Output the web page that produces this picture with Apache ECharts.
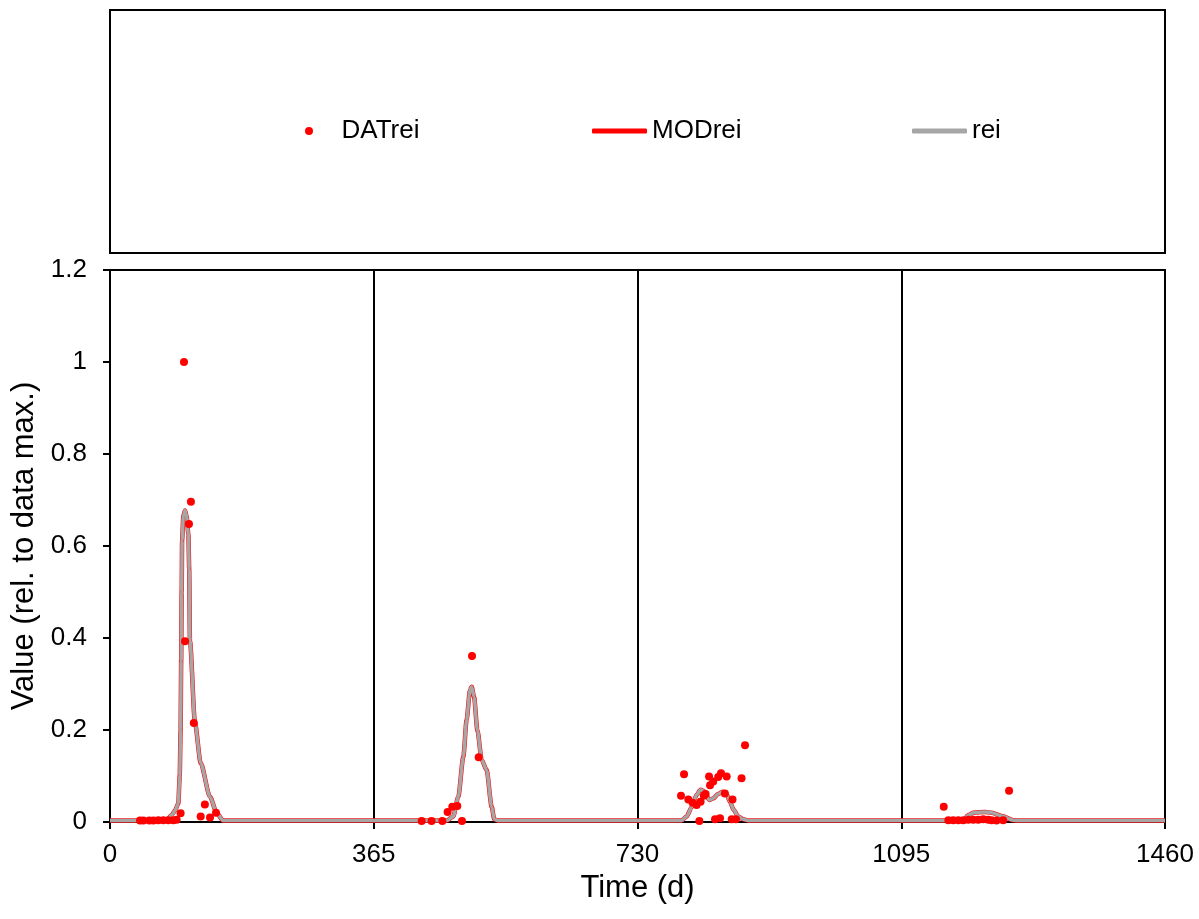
<!DOCTYPE html>
<html>
<head>
<meta charset="utf-8">
<script src="https://cdn.jsdelivr.net/npm/echarts@6/dist/echarts.min.js"></script>
<style>
html,body{margin:0;padding:0;background:#fff;}
#chart{width:1199px;height:919px;}
</style>
</head>
<body>
<div id="chart"></div>
<script>
// ---- data ----
const xTicks = [0, 365, 730, 1095, 1460];
const yTicks = [0, 0.2, 0.4, 0.6, 0.8, 1, 1.2];

// observed data points [day, value]
const DATrei = [
  [41.5,0.003],[46.1,0.003],[54.4,0.003],[60,0.003],[66.9,0.004],[73.8,0.004],[80.7,0.004],[87.6,0.004],[92.2,0.005],
  [97.7,0.019],[102.4,1.0],[103.8,0.393],[109.3,0.648],[112,0.696],[116,0.215],[125.5,0.012],[131.3,0.038],[138.4,0.010],[146.7,0.020],
  [431.3,0.002],[445,0.002],[459.9,0.002],[467.2,0.022],[473.7,0.033],[480.6,0.035],[487.1,0.002],[501,0.361],[510.2,0.141],
  [790.2,0.057],[794.4,0.104],[800.3,0.049],[806.3,0.042],[811.8,0.037],[815.6,0.002],[817.3,0.044],[821.9,0.057],[824.2,0.061],
  [829,0.099],[830.4,0.080],[834.8,0.088],[837.3,0.006],[841.7,0.098],[844.2,0.008],[845.6,0.106],[850.9,0.062],[853.4,0.099],
  [860.4,0.006],[861.5,0.049],[866.3,0.006],[874,0.095],[878.8,0.167],
  [1153.8,0.033],[1160.2,0.004],[1167,0.004],[1174,0.004],[1180.9,0.004],[1187.8,0.005],[1194.7,0.005],[1201.6,0.005],
  [1208.5,0.006],[1215.4,0.005],[1220,0.004],[1226.9,0.003],[1236.1,0.004],[1244.2,0.068]
];

// model curve [day, value]
const MODrei = [
  [0,0.003],[78,0.003],[85.4,0.015],[90,0.025],[94.5,0.04],[96.5,0.1],[97.7,0.2],[98.5,0.35],[99.2,0.5],[99.8,0.613],
  [101.5,0.665],[103.8,0.677],[106,0.665],[108.5,0.625],[109.6,0.55],[110.6,0.395],[117.6,0.215],[125.5,0.128],
  [138.4,0.055],[147.6,0.02],[156.4,0.003],
  [466,0.003],[475,0.012],[482,0.055],[489,0.142],[493.5,0.222],[498.2,0.287],[500.5,0.294],[503.8,0.272],[508.4,0.2],
  [514.4,0.135],[521.2,0.113],[528.2,0.033],[531.8,0.006],[537.4,0.003],
  [791,0.003],[798,0.012],[804.9,0.032],[811.8,0.059],[817.3,0.07],[823.2,0.066],[829.2,0.048],[834.7,0.051],[841.6,0.061],
  [848.5,0.066],[853.3,0.061],[857.8,0.044],[863.3,0.026],[869.4,0.012],[876.2,0.006],[883,0.003],
  [1181,0.003],[1187.9,0.015],[1194.8,0.02],[1211,0.022],[1220.2,0.02],[1234,0.013],[1250.2,0.004],[1259.4,0.003],[1460,0.003]
];

// simulated curve (coincides with the model curve in the picture)
const rei = [
  [0,0.003],[78,0.003],[85.4,0.015],[90,0.025],[94.5,0.04],[96.5,0.1],[97.7,0.2],[98.5,0.35],[99.2,0.5],[99.8,0.613],
  [101.5,0.665],[103.8,0.677],[106,0.665],[108.5,0.625],[109.6,0.55],[110.6,0.395],[117.6,0.215],[125.5,0.128],
  [138.4,0.055],[147.6,0.02],[156.4,0.003],
  [466,0.003],[475,0.012],[482,0.055],[489,0.142],[493.5,0.222],[498.2,0.287],[500.5,0.294],[503.8,0.272],[508.4,0.2],
  [514.4,0.135],[521.2,0.113],[528.2,0.033],[531.8,0.006],[537.4,0.003],
  [791,0.003],[798,0.012],[804.9,0.032],[811.8,0.059],[817.3,0.07],[823.2,0.066],[829.2,0.048],[834.7,0.051],[841.6,0.061],
  [848.5,0.066],[853.3,0.061],[857.8,0.044],[863.3,0.026],[869.4,0.012],[876.2,0.006],[883,0.003],
  [1181,0.003],[1187.9,0.015],[1194.8,0.02],[1211,0.022],[1220.2,0.02],[1234,0.013],[1250.2,0.004],[1259.4,0.003],[1460,0.003]
];

const FONT = '"Liberation Sans", Arial, sans-serif';
const chart = echarts.init(document.getElementById('chart'), null, {renderer: 'canvas'});

const legendBase = {
  orient: 'horizontal', top: 118, padding: 0, itemWidth: 55,
  textStyle: {fontFamily: FONT, fontSize: 26, color: '#000'},
  selectedMode: false
};

chart.setOption({
  animation: false,
  backgroundColor: '#fff',
  graphic: [{
    type: 'rect', z: 10,
    shape: {x: 110, y: 10, width: 1055, height: 243},
    style: {fill: 'none', stroke: '#000', lineWidth: 2}
  }],
  legend: [
    Object.assign({}, legendBase, {left: 305, itemHeight: 8, data: [{name: 'DATrei', icon: 'circle'}]}),
    Object.assign({}, legendBase, {left: 592, itemHeight: 5, data: [{name: 'MODrei', icon: 'roundRect'}]}),
    Object.assign({}, legendBase, {left: 912, itemHeight: 5, data: [{name: 'rei', icon: 'roundRect'}]})
  ],
  grid: {
    left: 110, right: 34, top: 270, bottom: 97,
    show: true, borderColor: '#000', borderWidth: 2, backgroundColor: 'transparent'
  },
  xAxis: {
    type: 'value', min: xTicks[0], max: xTicks[xTicks.length - 1], interval: 365,
    name: 'Time (d)', nameLocation: 'middle', nameGap: 46,
    nameTextStyle: {fontFamily: FONT, fontSize: 31, color: '#000'},
    axisLine: {show: true, onZero: false, lineStyle: {color: '#000', width: 2}},
    axisTick: {show: true, length: 7, lineStyle: {color: '#000', width: 2}},
    axisLabel: {fontFamily: FONT, fontSize: 26, color: '#000', margin: 20, formatter: v => String(v)},
    splitLine: {show: true, lineStyle: {color: '#000', width: 2}}
  },
  yAxis: {
    type: 'value', min: yTicks[0], max: yTicks[yTicks.length - 1], interval: 0.2,
    name: 'Value (rel. to data max.)', nameLocation: 'middle', nameGap: 67,
    nameTextStyle: {fontFamily: FONT, fontSize: 31, color: '#000'},
    axisLine: {show: true, lineStyle: {color: '#000', width: 2}},
    axisTick: {show: true, length: 7, lineStyle: {color: '#000', width: 2}},
    axisLabel: {fontFamily: FONT, fontSize: 26, color: '#000', margin: 23,
      formatter: v => String(Math.round(v * 10) / 10)},
    splitLine: {show: false}
  },
  series: [
    {
      name: 'MODrei', type: 'line', data: MODrei, symbol: 'none', z: 2,
      smooth: 0.25, smoothMonotone: 'x',
      lineStyle: {color: '#FF0000', width: 4.5}, itemStyle: {color: '#FF0000'}
    },
    {
      name: 'rei', type: 'line', data: rei, symbol: 'none', z: 3,
      smooth: 0.25, smoothMonotone: 'x',
      lineStyle: {color: '#A6A6A6', width: 3.5}, itemStyle: {color: '#A6A6A6'}
    },
    {
      name: 'DATrei', type: 'scatter', data: DATrei, symbol: 'circle', symbolSize: 8, z: 4,
      itemStyle: {color: '#FF0000', opacity: 1}
    }
  ]
});
</script>
</body>
</html>
